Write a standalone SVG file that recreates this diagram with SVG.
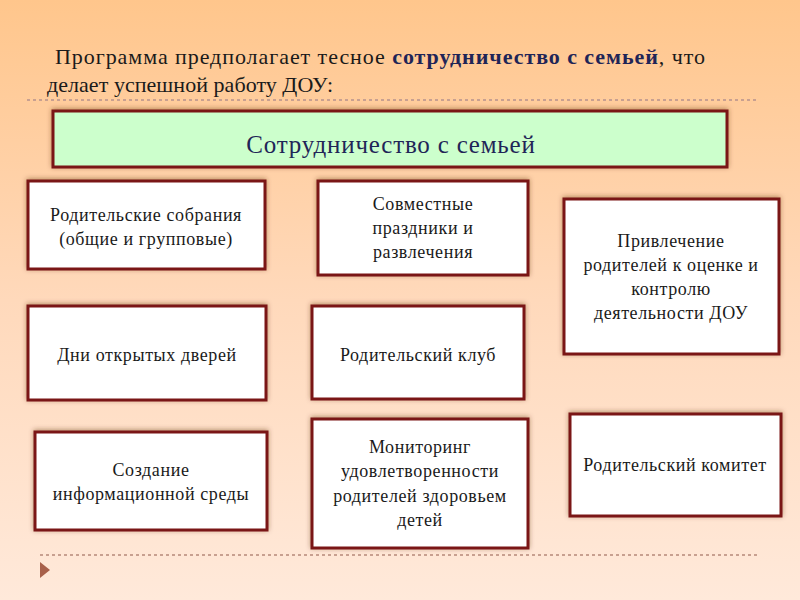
<svg xmlns="http://www.w3.org/2000/svg" width="800" height="600" viewBox="0 0 800 600">
<defs>
<linearGradient id="bg" x1="0" y1="0" x2="0" y2="1">
<stop offset="0" stop-color="#FFC68C"/>
<stop offset="0.5" stop-color="#FFD9BB"/>
<stop offset="1" stop-color="#FFE9DA"/>
</linearGradient>
<filter id="sh" x="-10%" y="-20%" width="120%" height="140%">
<feDropShadow dx="0" dy="-1" stdDeviation="2.5" flood-color="#5a2a10" flood-opacity="0.45"/>
</filter>
</defs>
<style>
.box{fill:#FFFFFF;stroke:#7A1414;stroke-width:3;filter:url(#sh)}
.hdr{fill:#CCFFCC;stroke:#7A1414;stroke-width:3;filter:url(#sh)}
.t{font-family:'Liberation Serif','DejaVu Serif','Noto Serif',serif;font-size:18px;letter-spacing:0.6px;fill:#1a1a1a;text-anchor:middle}
.title{font-family:'Liberation Serif','DejaVu Serif','Noto Serif',serif;font-size:22px;fill:#1a1a1a}
.dot{stroke:#C8A090;stroke-width:2;stroke-dasharray:3 3}
</style>
<rect width="800" height="600" fill="url(#bg)"/>
<text class="title" x="55" y="64" textLength="650" lengthAdjust="spacing">Программа предполагает тесное <tspan font-weight="bold" fill="#1F2557">сотрудничество с семьей</tspan>, что</text>
<text class="title" x="47" y="92" textLength="286" lengthAdjust="spacing">делает успешной работу ДОУ:</text>
<line class="dot" x1="27" y1="100" x2="758" y2="100"/>
<line class="dot" x1="40" y1="555" x2="760" y2="555"/>
<polygon points="40,562 50,570 40,578" fill="#A8604A"/>
<g id="header">
<rect class="hdr" x="53" y="111" width="674" height="56"/>
<text class="t" x="391" y="153" style="font-size:25px;letter-spacing:0.8px;fill:#1F2557">Сотрудничество с семьей</text>
</g>
<g id="n1">
<rect class="box" x="28" y="181" width="237" height="88"/>
<text class="t" x="146" y="221">Родительские собрания</text>
<text class="t" x="146" y="245">(общие и групповые)</text>
</g>
<g id="n2">
<rect class="box" x="318" y="181" width="210" height="94"/>
<text class="t" x="423" y="210">Совместные</text>
<text class="t" x="423" y="234">праздники и</text>
<text class="t" x="423" y="258">развлечения</text>
</g>
<g id="n3">
<rect class="box" x="564" y="199" width="215" height="155"/>
<text class="t" x="671" y="247">Привлечение</text>
<text class="t" x="671" y="271">родителей к оценке и</text>
<text class="t" x="671" y="295">контролю</text>
<text class="t" x="671" y="319">деятельности ДОУ</text>
</g>
<g id="n4">
<rect class="box" x="28" y="306" width="238" height="94"/>
<text class="t" x="147" y="361">Дни открытых дверей</text>
</g>
<g id="n5">
<rect class="box" x="312" y="306" width="212" height="93"/>
<text class="t" x="418" y="361">Родительский клуб</text>
</g>
<g id="n6">
<rect class="box" x="35" y="432" width="232" height="98"/>
<text class="t" x="151" y="476">Создание</text>
<text class="t" x="151" y="500">информационной среды</text>
</g>
<g id="n7">
<rect class="box" x="312" y="419" width="216" height="129"/>
<text class="t" x="420" y="453">Мониторинг</text>
<text class="t" x="420" y="477">удовлетворенности</text>
<text class="t" x="420" y="502">родителей здоровьем</text>
<text class="t" x="420" y="526">детей</text>
</g>
<g id="n8">
<rect class="box" x="570" y="414" width="211" height="102"/>
<text class="t" x="675" y="471">Родительский комитет</text>
</g>
<g id="connectors"/>
</svg>
